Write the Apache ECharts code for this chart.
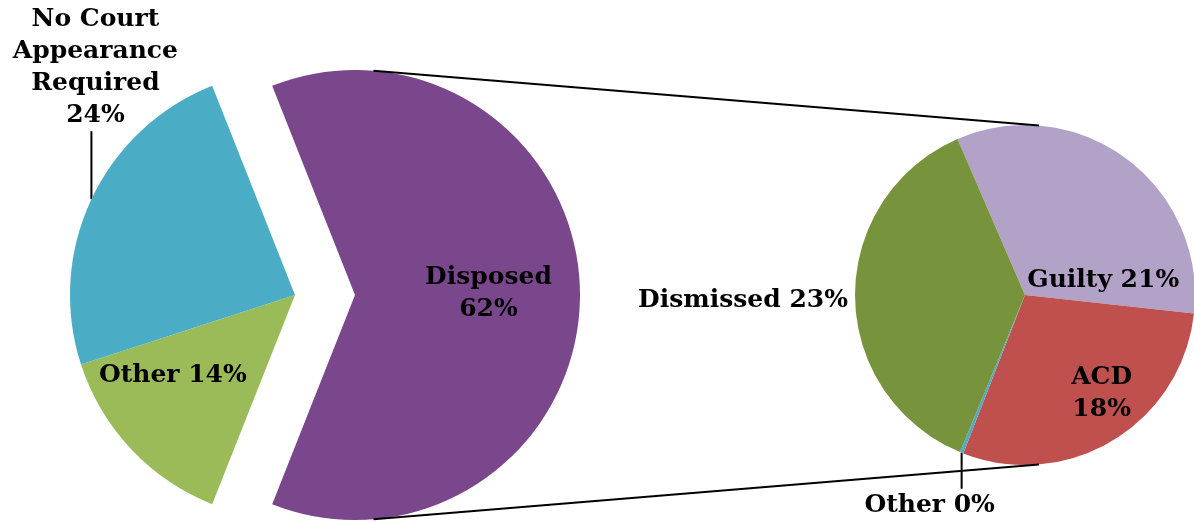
<!DOCTYPE html>
<html><head><meta charset="utf-8">
<script src="https://cdn.jsdelivr.net/npm/echarts@6/dist/echarts.min.js"></script>
<style>html,body{margin:0;padding:0;background:#fff}#c{width:1194px;height:523px}</style>
</head><body><div id="c"></div>
<script>
// ---- data ----
const mainCategories = ['Disposed', 'Other', 'No Court Appearance Required'];
const mainValues = [62, 14, 24];
const mainLabelNames = ['Disposed\n', 'Other ', 'No Court\nAppearance\nRequired\n'];
const mainColors = ['#7A478C', '#9BBB59', '#4BACC6'];

const subCategories = ['Guilty', 'ACD', 'Other', 'Dismissed'];
const subValues = [20.6, 18.1, 0.2, 23.1];
const subLabelNames = ['Guilty ', 'ACD\n', 'Other ', 'Dismissed '];
const subColors = ['#B2A2C7', '#C0504D', '#4BACC6', '#77933C'];

// ---- layout ----
const C1 = [295, 295], R1 = 225, OFF = 60;
const C2 = [1025, 295], R2 = 170;
const total = mainValues.reduce((a, b) => a + b, 0);
const start1 = mainValues[0] / total * 180;
const start2 = 113.4;

function edgePoint(center, r, start, values, i) {
  const sum = values.reduce((a, b) => a + b, 0);
  let before = 0;
  for (let k = 0; k < i; k++) before += values[k];
  const ang = (start - (before + values[i] / 2) / sum * 360) * Math.PI / 180;
  return [center[0] + r * Math.cos(ang), center[1] - r * Math.sin(ang)];
}
const pct = v => Math.round(v / total * 100) + '%';

const font = { fontFamily: 'DejaVu Serif', fontWeight: 'bold', fontSize: 25, lineHeight: 32, color: '#000' };

// connector lines: external tangents between exploded slice arc and second pie
const P1 = [C1[0] + OFF, C1[1]];
const d = C2[0] - P1[0];
const alpha = Math.acos((R1 - R2) / d);
const tTop1 = [P1[0] + R1 * Math.cos(alpha), P1[1] - R1 * Math.sin(alpha)];
const tTop2 = [C2[0] + R2 * Math.cos(alpha), C2[1] - R2 * Math.sin(alpha)];
const tBot1 = [P1[0] + R1 * Math.cos(alpha), P1[1] + R1 * Math.sin(alpha)];
const tBot2 = [C2[0] + R2 * Math.cos(alpha), C2[1] + R2 * Math.sin(alpha)];

const mainData = mainCategories.map((n, i) => ({
  name: n, value: mainValues[i],
  itemStyle: { color: mainColors[i], borderWidth: 0 },
  select: { itemStyle: { color: mainColors[i], borderWidth: 0 } },
  selected: i === 0,
  label: { position: i === 2 ? 'outside' : 'inside' },
  labelLine: { show: i === 2, length: 10, length2: 0, lineStyle: { color: '#000', width: 2 } }
}));
const subData = subCategories.map((n, i) => ({
  name: n, value: subValues[i],
  itemStyle: { color: subColors[i], borderWidth: 0 },
  label: { position: (i >= 2) ? 'outside' : 'inside' },
  labelLine: { show: i === 2, length: 10, length2: 0, lineStyle: { color: '#000', width: 2 } }
}));

const chart = echarts.init(document.getElementById('c'), null, { renderer: 'canvas' });
chart.setOption({
  animation: false,
  backgroundColor: '#fff',
  graphic: [
    { type: 'line', z: 100, shape: { x1: tTop1[0], y1: tTop1[1], x2: tTop2[0], y2: tTop2[1] }, style: { stroke: '#000', lineWidth: 2 } },
    { type: 'line', z: 100, shape: { x1: tBot1[0], y1: tBot1[1], x2: tBot2[0], y2: tBot2[1] }, style: { stroke: '#000', lineWidth: 2 } }
  ],
  series: [
    {
      type: 'pie', center: C1, radius: [0, R1], startAngle: start1, clockwise: true,
      selectedMode: 'single', selectedOffset: OFF, avoidLabelOverlap: false,
      emphasis: { disabled: true },
      label: Object.assign({ show: true, formatter: p => mainLabelNames[p.dataIndex] + pct(p.value) }, font),
      labelLayout: function (p) {
        if (p.dataIndex === 0) return { dx: 18, dy: -2 };
        if (p.dataIndex === 1) return { dx: -38, dy: 1 };
        const a = edgePoint(C1, R1, start1, mainValues, 2);
        return { x: a[0] + 4, y: a[1] - 68, align: 'center', verticalAlign: 'bottom',
                 labelLinePoints: [a, [a[0], a[1] - 68]] };
      },
      data: mainData
    },
    {
      type: 'pie', center: C2, radius: [0, R2], startAngle: start2, clockwise: true,
      avoidLabelOverlap: false, emphasis: { disabled: true },
      label: Object.assign({ show: true, formatter: p => subLabelNames[p.dataIndex] + pct(p.value) }, font),
      labelLayout: function (p) {
        if (p.dataIndex === 0) return { dx: 26, dy: 56 };
        if (p.dataIndex === 1) return { dx: 31, dy: 23 };
        if (p.dataIndex === 2) {
          const a = edgePoint(C2, R2, start2, subValues, 2);
          return { x: a[0] - 32, y: a[1] + 37, align: 'center', verticalAlign: 'top',
                   labelLinePoints: [a, [a[0], a[1] + 36]] };
        }
        const b = edgePoint(C2, R2, start2, subValues, 3);
        return { x: b[0] - 7, y: b[1] + 4, align: 'right', verticalAlign: 'middle' };
      },
      data: subData
    }
  ]
});
</script></body></html>
